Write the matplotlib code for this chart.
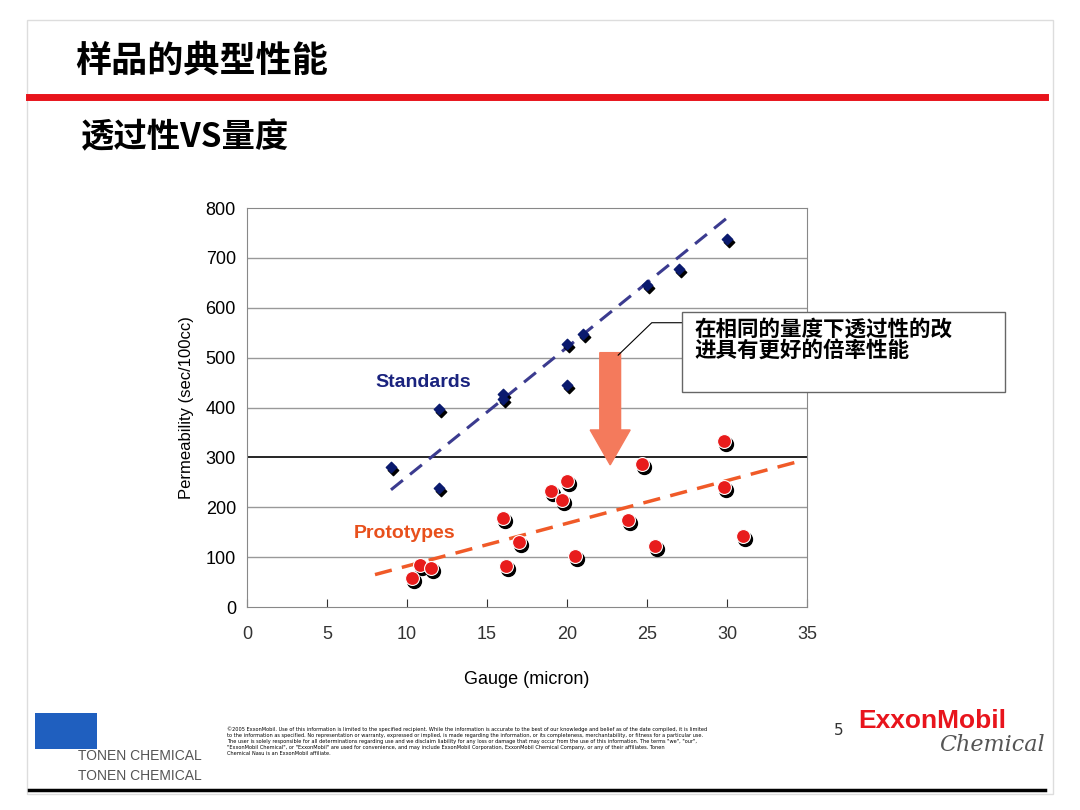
import matplotlib
matplotlib.use("Agg")
import matplotlib.pyplot as plt
from matplotlib.patches import FancyArrow, Rectangle
import numpy as np

plt.rcParams['font.family'] = ['Noto Sans CJK SC', 'DejaVu Sans']

std_x = [9, 12, 12, 16, 16, 20, 20, 21, 25, 27, 30]
std_y = [280, 398, 238, 428, 418, 527, 445, 548, 645, 678, 738]
std_trend_x = [9, 30]
std_trend_y = [235, 780]
pro_x = [10.3, 10.8, 11.5, 16, 16.2, 17, 19, 19.7, 20, 20.5, 23.8, 24.7, 25.5, 29.8, 29.8, 31]
pro_y = [58, 85, 78, 178, 83, 130, 232, 215, 252, 102, 175, 287, 123, 333, 240, 143]
pro_trend_x = [8, 34.5]
pro_trend_y = [65, 292]
xticks = [0, 5, 10, 15, 20, 25, 30, 35]
yticks = [0, 100, 200, 300, 400, 500, 600, 700, 800]

fig = plt.figure(figsize=(10.8, 8.1), dpi=100)
fig.patch.set_facecolor('white')
fig.add_artist(Rectangle((0.025, 0.02), 0.95, 0.955, transform=fig.transFigure, fill=False, ec='#dddddd', lw=1))
fig.text(0.07, 0.925, '样品的典型性能', fontsize=26, fontweight='bold', va='center')
fig.add_artist(plt.Line2D([0.027, 0.968], [0.880, 0.880], color='#e8141c', lw=5, transform=fig.transFigure))
fig.text(0.075, 0.830, '透过性VS量度', fontsize=24, fontweight='bold', va='center')
fig.add_artist(plt.Line2D([0.027, 0.968], [0.025, 0.025], color='black', lw=2.5, transform=fig.transFigure))

ax = fig.add_axes([0.2287, 0.2506, 0.5185, 0.4926])
ax.set_xlim(0, 35)
ax.set_ylim(0, 800)
ax.set_xticks(xticks)
ax.set_yticks(yticks)
for y in yticks[1:-1]:
    ax.axhline(y, color='black' if y == 300 else '#999999', lw=1.2 if y == 300 else 1, zorder=0)
for s in ax.spines.values():
    s.set_color('#888888')
ax.tick_params(axis='x', direction='in', pad=14, labelsize=13, length=6, colors='#333333')
ax.tick_params(axis='y', length=0, labelsize=13, pad=8)
for lab in ax.get_xticklabels() + ax.get_yticklabels():
    lab.set_family('Liberation Sans')
ax.set_xlabel('Gauge (micron)', fontsize=13, labelpad=20, family='Liberation Sans')
ax.set_ylabel('Permeability (sec/100cc)', fontsize=12, labelpad=8, family='Liberation Sans')

ax.plot(std_trend_x, std_trend_y, ls=(0, (5, 3)), color='#3b3b8f', lw=2.2)
ax.plot(pro_trend_x, pro_trend_y, ls=(0, (5, 3)), color='#f05a28', lw=2.5)
ax.scatter(np.array(std_x) + 0.12, np.array(std_y) - 6, marker='D', s=28, color='black', zorder=3)
ax.scatter(std_x, std_y, marker='D', s=28, color='#0a1a6e', zorder=4)
ax.scatter(np.array(pro_x) + 0.12, np.array(pro_y) - 6, marker='o', s=100, color='black', zorder=3)
ax.scatter(pro_x, pro_y, marker='o', s=100, color='#e81c1c', edgecolors='white', linewidths=0.8, zorder=4)

ax.text(8, 450, 'Standards', color='#1a237e', fontsize=14, fontweight='bold', family='Liberation Sans', va='center')
ax.text(6.7, 147, 'Prototypes', color='#e8501c', fontsize=14, fontweight='bold', family='Liberation Sans', va='center')

ax.add_patch(FancyArrow(22.7, 510, 0, -225, width=1.3, head_width=2.5, head_length=70,
                        length_includes_head=True, color='#f47a5c', zorder=5))
ax.plot([27.2, 25.3, 23.2], [570, 570, 505], color='black', lw=0.8, zorder=6)
box = Rectangle((0.6315, 0.516), 0.2990, 0.099, transform=fig.transFigure, fc='white', ec='#666666', lw=1, zorder=10)
fig.add_artist(box)
fig.text(0.643, 0.581, '在相同的量度下透过性的改\n进具有更好的倍率性能', fontsize=15.5, fontweight='bold',
         linespacing=1.0, va='center', zorder=11)

fig.add_artist(Rectangle((0.032, 0.075), 0.058, 0.045, transform=fig.transFigure, fc='#1f5fbf', ec='none'))
fig.text(0.072, 0.062, 'TONEN CHEMICAL', fontsize=10, color='#555555', family='Liberation Sans')
fig.text(0.072, 0.037, 'TONEN CHEMICAL', fontsize=10, color='#555555', family='Liberation Sans')
fig.text(0.21, 0.085, '©2005 ExxonMobil. Use of this information is limited to the specified recipient. While the information is accurate to the best of our knowledge and belief as of the date compiled, it is limited\n'
         'to the information as specified. No representation or warranty, expressed or implied, is made regarding the information, or its completeness, merchantability, or fitness for a particular use.\n'
         'The user is solely responsible for all determinations regarding use and we disclaim liability for any loss or damage that may occur from the use of this information. The terms "we", "our",\n'
         '"ExxonMobil Chemical", or "ExxonMobil" are used for convenience, and may include ExxonMobil Corporation, ExxonMobil Chemical Company, or any of their affiliates. Tonen\n'
         'Chemical Nasu is an ExxonMobil affiliate.', fontsize=3.6, va='center', family='DejaVu Sans', linespacing=1.3)
fig.text(0.772, 0.093, '5', fontsize=11, color='#333333', family='DejaVu Sans')
fig.text(0.795, 0.110, 'ExxonMobil', fontsize=19, color='#e8141c', fontweight='bold', family='Liberation Sans', va='center')
fig.text(0.870, 0.080, 'Chemical', fontsize=16, color='#555555', style='italic', family='DejaVu Serif', va='center')

fig.savefig('out.png', dpi=100)
